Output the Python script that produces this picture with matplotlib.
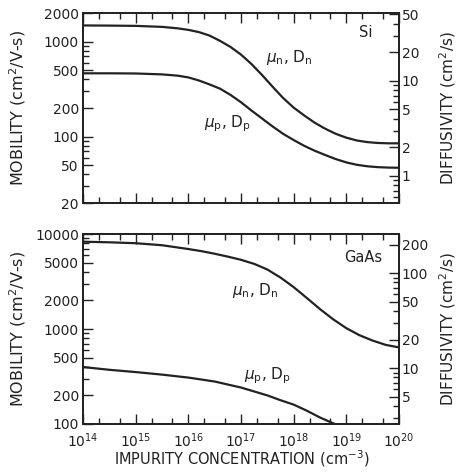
import matplotlib
matplotlib.use('Agg')
import matplotlib.pyplot as plt
import numpy as np

plt.rcParams['font.family'] = 'DejaVu Sans'

KT = 0.0259  # D = mu * kT/q

# Si (log10 of concentration, mobility)
si_n_logn = [14.0, 14.5, 15.0, 15.5, 15.8, 16.0, 16.2, 16.4, 16.6, 16.8, 17.0,
             17.2, 17.4, 17.6, 17.8, 18.0, 18.2, 18.4, 18.6, 18.8, 19.0,
             19.2, 19.4, 19.6, 19.8, 20.0]
si_n_mob = [1480, 1475, 1465, 1430, 1380, 1330, 1260, 1160, 1020, 880, 730,
            580, 445, 335, 255, 202, 167, 140, 121, 107, 97.5,
            91, 87.5, 85.7, 85, 85]
si_p_logn = si_n_logn
si_p_mob = [464, 464, 462, 452, 438, 420, 390, 355, 320, 275, 230,
            188, 155, 128, 107, 92, 80, 71, 64, 58, 53.5,
            50.5, 48.7, 47.7, 47.2, 47]

# GaAs
gaas_n_logn = [14.0, 14.5, 15.0, 15.5, 16.0, 16.25, 16.5, 16.75, 17.0, 17.25,
               17.5, 17.75, 18.0, 18.25, 18.5, 18.75, 19.0, 19.25, 19.5,
               19.75, 20.0]
gaas_n_mob = [8300, 8180, 8000, 7620, 6950, 6600, 6200, 5780, 5350, 4850,
              4230, 3480, 2760, 2120, 1620, 1265, 1020, 860, 755,
              680, 640]
gaas_p_logn = [14.0, 14.5, 15.0, 15.5, 16.0, 16.5, 17.0, 17.5, 17.75, 18.0,
               18.25, 18.5, 18.78]
gaas_p_mob = [398, 372, 352, 331, 308, 280, 242, 200, 178, 160,
              138, 117, 100]

xticks = [1e14, 1e15, 1e16, 1e17, 1e18, 1e19, 1e20]
xlabels = ['$\\mathregular{10^{%d}}$' % k for k in range(14, 21)]

si_left = [20, 50, 100, 200, 500, 1000, 2000]
si_right = [1, 2, 5, 10, 20, 50]
gaas_left = [100, 200, 500, 1000, 2000, 5000, 10000]
gaas_right = [5, 10, 20, 50, 100, 200]

ink = '#222222'


def minors(lo, hi, majors):
    out = []
    for d in range(-1, 5):
        for m in range(2, 10):
            v = m * 10.0 ** d
            if lo <= v <= hi and v not in majors:
                out.append(v)
    return out


def setup(ax, ylim, left, right, show_x):
    ax.set_xscale('log')
    ax.set_yscale('log')
    ax.set_xlim(1e14, 1e20)
    ax.set_ylim(*ylim)
    ax.set_xticks(xticks)
    xmin = [m * 10.0 ** k for k in range(14, 20) for m in (2, 5)]
    ax.set_xticks(xmin, minor=True)
    if show_x:
        ax.set_xticklabels(xlabels)
    else:
        ax.set_xticklabels([])
    ax.xaxis.set_minor_formatter(matplotlib.ticker.NullFormatter())
    ax.set_yticks(left)
    ax.set_yticklabels([str(v) for v in left])
    ax.set_yticks(minors(ylim[0], ylim[1], left), minor=True)
    ax.yaxis.set_minor_formatter(matplotlib.ticker.NullFormatter())
    ax.tick_params(which='both', direction='in', top=True, right=False,
                   color=ink, width=1.0, labelsize=10, labelcolor=ink)
    ax.tick_params(which='major', length=7)
    ax.tick_params(which='minor', length=4.5)
    ax.tick_params(axis='x', pad=5)
    ax.tick_params(axis='y', pad=3)
    for s in ax.spines.values():
        s.set_linewidth(1.3)
        s.set_color(ink)
    ax.set_ylabel('MOBILITY (cm$^2$/V-s)', fontsize=11.5, color=ink)
    ax.yaxis.set_label_coords(-0.174, 0.5)

    ax2 = ax.twinx()
    ax2.set_yscale('log')
    ax2.set_ylim(ylim[0] * KT, ylim[1] * KT)
    ax2.set_yticks(right)
    ax2.set_yticklabels([str(v) for v in right])
    ax2.set_yticks(minors(ylim[0] * KT, ylim[1] * KT, right), minor=True)
    ax2.yaxis.set_minor_formatter(matplotlib.ticker.NullFormatter())
    ax2.tick_params(which='both', direction='in', color=ink, width=1.0,
                    labelsize=10, labelcolor=ink, pad=2)
    ax2.tick_params(which='major', length=7)
    ax2.tick_params(which='minor', length=4.5)
    for s in ax2.spines.values():
        s.set_linewidth(1.3)
        s.set_color(ink)
    ax2.set_ylabel('DIFFUSIVITY (cm$^2$/s)', fontsize=11, color=ink)
    ax2.yaxis.set_label_coords(1.122, 0.5)
    return ax2


fig = plt.figure(figsize=(4.57, 4.74), dpi=100)
ax1 = fig.add_axes([0.1816, 0.5717, 0.6915, 0.4008])
ax3 = fig.add_axes([0.1816, 0.1055, 0.6915, 0.4008])

setup(ax1, (20, 2000), si_left, si_right, False)
setup(ax3, (100, 10000), gaas_left, gaas_right, True)

ax1.plot(10 ** np.array(si_n_logn), si_n_mob, color=ink, lw=1.6)
ax1.plot(10 ** np.array(si_p_logn), si_p_mob, color=ink, lw=1.6)
ax3.plot(10 ** np.array(gaas_n_logn), gaas_n_mob, color=ink, lw=1.6)
ax3.plot(10 ** np.array(gaas_p_logn), gaas_p_mob, color=ink, lw=1.6)

tr = ax1.transAxes
ax1.text(0.894, 0.90, 'Si', transform=tr, fontsize=10.5, color=ink, ha='center', va='center')
ax1.text(0.652, 0.765, r'$\mu_{\rm n}$, D$_{\rm n}$', transform=tr, fontsize=11, color=ink, ha='center', va='center')
ax1.text(0.456, 0.417, r'$\mu_{\rm p}$, D$_{\rm p}$', transform=tr, fontsize=11, color=ink, ha='center', va='center')

tr = ax3.transAxes
ax3.text(0.886, 0.879, 'GaAs', transform=tr, fontsize=10.5, color=ink, ha='center', va='center')
ax3.text(0.544, 0.705, r'$\mu_{\rm n}$, D$_{\rm n}$', transform=tr, fontsize=11, color=ink, ha='center', va='center')
ax3.text(0.585, 0.253, r'$\mu_{\rm p}$, D$_{\rm p}$', transform=tr, fontsize=11, color=ink, ha='center', va='center')

ax3.set_xlabel('IMPURITY CONCENTRATION (cm$^{-3}$)', fontsize=10.5, color=ink)
ax3.xaxis.set_label_coords(0.503, -0.128)

fig.savefig('out.png', dpi=100)
